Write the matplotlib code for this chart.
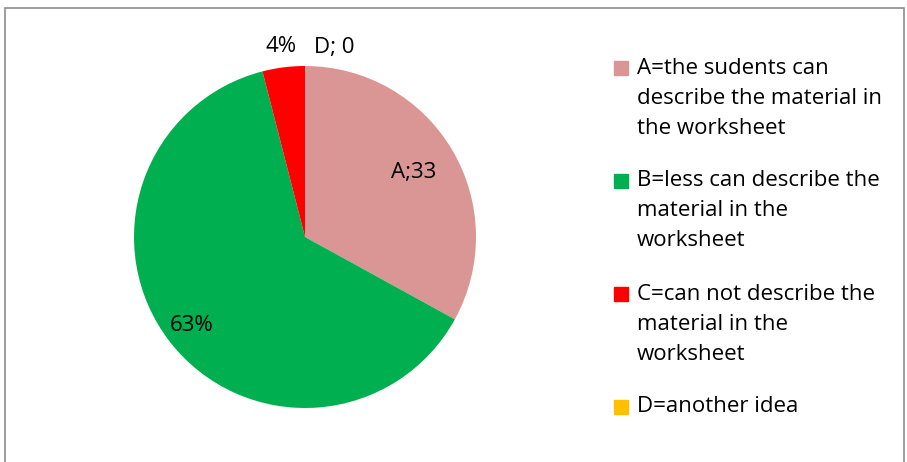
import numpy as np
import matplotlib.pyplot as plt
from matplotlib.patches import Rectangle

plt.rcParams['font.family'] = ['Open Sans', 'DejaVu Sans']

categories = ['A', 'B', 'C', 'D']
values = [33, 63, 4, 0]
slice_labels = ['A;33', '63%', '4%', 'D; 0']
legend_labels = [
    'A=the sudents can\ndescribe the material in\nthe worksheet',
    'B=less can describe the\nmaterial in the\nworksheet',
    'C=can not describe the\nmaterial in the\nworksheet',
    'D=another idea',
]
colours = ['#D99694', '#00B050', '#FF0000', '#FFC000']

W, H = 907, 462
FS = 16
fig = plt.figure(figsize=(W / 100, H / 100), dpi=100)

# outer chart frame (bottom edge is off the picture)
fig.patches.append(Rectangle((5 / W, -0.1), (899 / W), (462 - 8) / H + 0.1,
                             transform=fig.transFigure, fill=False,
                             edgecolor='#8c8c8c', linewidth=1.2))

cx, cy, r = 305, 237, 171
ax = fig.add_axes([(cx - r) / W, (H - cy - r) / H, 2 * r / W, 2 * r / H])
wedges, _ = ax.pie(values, colors=colours, startangle=90, counterclock=False,
                   radius=1, wedgeprops=dict(linewidth=0))
ax.set_xlim(-1, 1)
ax.set_ylim(-1, 1)
ax.set_aspect('equal')
ax.axis('off')

# labels at a radius along each wedge's middle angle
label_r = [0.74, 0.84, 1.12, 1.11]
label_dx = [0, 0, 0, 0.17]
for w, lab, lr, dx in zip(wedges, slice_labels, label_r, label_dx):
    ang = np.deg2rad((w.theta1 + w.theta2) / 2)
    ax.text(lr * np.cos(ang) + dx, lr * np.sin(ang), lab, ha='center', va='center',
            fontsize=FS, color='black', clip_on=False)

# legend drawn by hand so the swatch lines up with the first text line
y0 = 68
line_h = 30
for lab, col in zip(legend_labels, colours):
    fig.patches.append(Rectangle((614 / W, (H - y0 - 7) / H), 14 / W, 14 / H,
                                 transform=fig.transFigure, color=col))
    lines = lab.split('\n')
    for i, ln in enumerate(lines):
        fig.text(637 / W, (H - y0 - i * line_h) / H, ln, fontsize=FS,
                 va='center', ha='left', color='black')
    y0 += len(lines) * line_h + 23

fig.savefig('out.png', dpi=100)
